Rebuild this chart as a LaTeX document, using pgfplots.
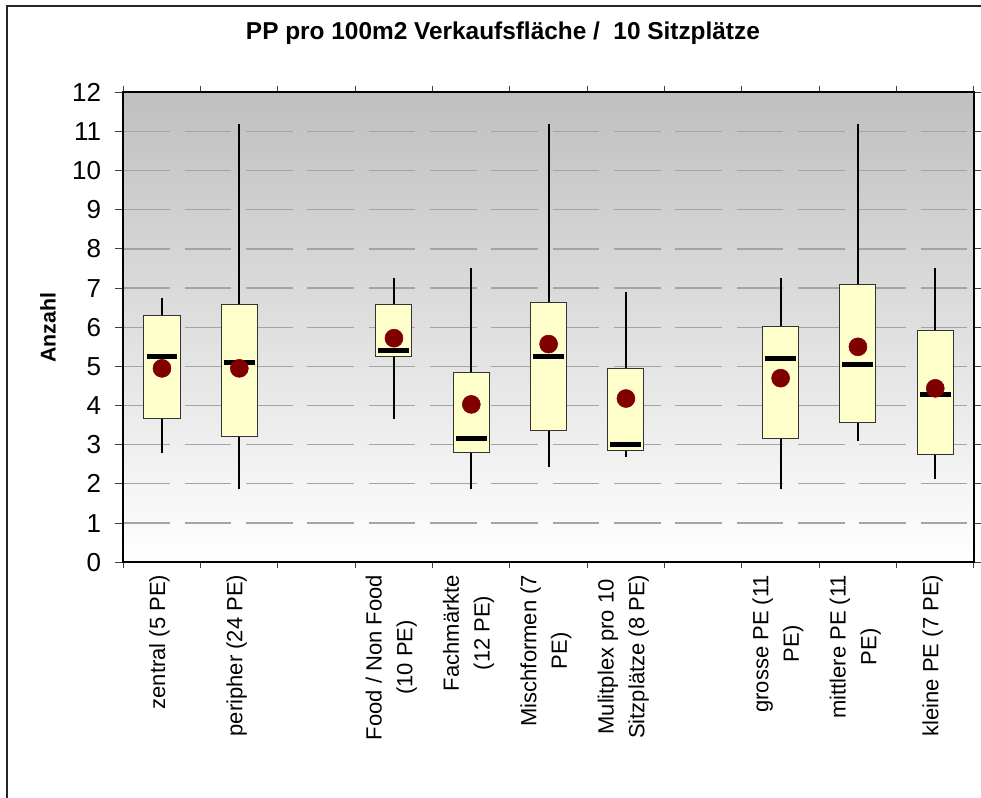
\documentclass[border=0pt]{standalone}
\usepackage{fontspec}
\setmainfont{Liberation Sans}
\usepackage{pgfplots}
\pgfplotsset{compat=1.18}
\usepgfplotslibrary{statistics}

\definecolor{boxfill}{HTML}{FFFFCC}
\definecolor{avgred}{HTML}{800000}
\definecolor{gridgray}{HTML}{A4A4A4}

\pgfplotsset{
  boxplot/draw direction=y,
  boxplot/box extend=0.466,
  boxplot/whisker extend=0,
  boxplot/every box/.style={/tikz/draw=black!80, /tikz/fill=boxfill, /tikz/line width=0.75pt},
  boxplot/every whisker/.style={/tikz/draw=black, /tikz/line width=1.5pt},
  boxplot/every median/.style={/tikz/draw=black, /tikz/line width=3.5pt,
    /tikz/shorten <=1.9pt, /tikz/shorten >=1.9pt},
  boxplot/every average/.style={/tikz/mark=*, /tikz/mark size=6.75pt},
  statbox/.style={color=avgred, mark options={draw=avgred, fill=avgred}},
}

\begin{document}
\begin{tikzpicture}
\useasboundingbox (-92.5pt,-176.8pt) rectangle (643.3pt,421.7pt);
% chart frame (left and top edges)
\draw[line width=1.5pt, black!85] (-87.2pt,-200pt) -- (-87.2pt,417.2pt) -- (700pt,417.2pt);
\begin{axis}[
  at={(0,0)}, anchor=south west,
  scale only axis, width=638pt, height=352.5pt,
  xmin=-0.5, xmax=10.5, ymin=0, ymax=12,
  axis background/.style={shade, top color=gray!50, bottom color=white},
  axis line style={line width=1.5pt, black},
  ytick={0,...,12},
  xtick={0,...,10},
  minor xtick={-0.5,0.5,...,10.5},
  major x tick style={draw=none},
  tick align=outside,
  major tick length=6pt, minor tick length=4.5pt,
  tick style={black!75, line width=0.75pt},
  ymajorgrids,
  major grid style={gridgray, line width=0.9pt, dash pattern=on 35pt off 11pt},
  /pgf/number format/assume math mode=true,
  yticklabel style={font=\fontsize{19.5}{22}\selectfont, anchor=east, inner sep=0pt, xshift=-10.5pt},
  xticklabel style={font=\fontsize{16.5}{23}\selectfont, rotate=90, anchor=east, align=center,
    yshift=2pt},
  xticklabels={zentral (5 PE), peripher (24 PE), {}, {Food / Non Food\\(10 PE)},
    {Fachmärkte\\(12 PE)}, {Mischformen (7\\PE)}, {Mulitplex pro 10\\Sitzplätze (8 PE)},
    {}, {grosse PE (11\\PE)}, {mittlere PE (11\\PE)}, kleine PE (7 PE)},
  title={PP pro 100m2 Verkaufsfläche /~ 10 Sitzplätze},
  title style={at={(axis description cs:0.4463,1.095)}, anchor=base,
    font=\bfseries\fontsize{18.3}{21}\selectfont},
  ylabel={Anzahl},
  ylabel style={at={(axis description cs:-0.0885,0.4985)}, anchor=center,
    font=\bfseries\fontsize{16}{19}\selectfont},
]
% zentral (5 PE)
\addplot[statbox, boxplot prepared={draw position=0, lower whisker=2.78, lower quartile=3.68,
  median=5.25, upper quartile=6.31, upper whisker=6.74, average=4.95}] coordinates {};
% peripher (24 PE)
\addplot[statbox, boxplot prepared={draw position=1, lower whisker=1.86, lower quartile=3.21,
  median=5.10, upper quartile=6.58, upper whisker=11.19, average=4.95}] coordinates {};
% Food / Non Food (10 PE)
\addplot[statbox, boxplot prepared={draw position=3, lower whisker=3.65, lower quartile=5.25,
  median=5.40, upper quartile=6.58, upper whisker=7.25, average=5.72}] coordinates {};
% Fachmaerkte (12 PE)
\addplot[statbox, boxplot prepared={draw position=4, lower whisker=1.86, lower quartile=2.80,
  median=3.16, upper quartile=4.84, upper whisker=7.51, average=4.03}] coordinates {};
% Mischformen (7 PE)
\addplot[statbox, boxplot prepared={draw position=5, lower whisker=2.43, lower quartile=3.36,
  median=5.25, upper quartile=6.63, upper whisker=11.19, average=5.57}] coordinates {};
% Multiplex pro 10 Sitzplaetze (8 PE)
\addplot[statbox, boxplot prepared={draw position=6, lower whisker=2.68, lower quartile=2.85,
  median=3.00, upper quartile=4.94, upper whisker=6.89, average=4.18}] coordinates {};
% grosse PE (11 PE)
\addplot[statbox, boxplot prepared={draw position=8, lower whisker=1.86, lower quartile=3.16,
  median=5.21, upper quartile=6.02, upper whisker=7.25, average=4.70}] coordinates {};
% mittlere PE (11 PE)
\addplot[statbox, boxplot prepared={draw position=9, lower whisker=3.09, lower quartile=3.57,
  median=5.05, upper quartile=7.09, upper whisker=11.19, average=5.50}] coordinates {};
% kleine PE (7 PE)
\addplot[statbox, boxplot prepared={draw position=10, lower whisker=2.13, lower quartile=2.76,
  median=4.29, upper quartile=5.91, upper whisker=7.51, average=4.44}] coordinates {};
\end{axis}
\end{tikzpicture}
\end{document}
